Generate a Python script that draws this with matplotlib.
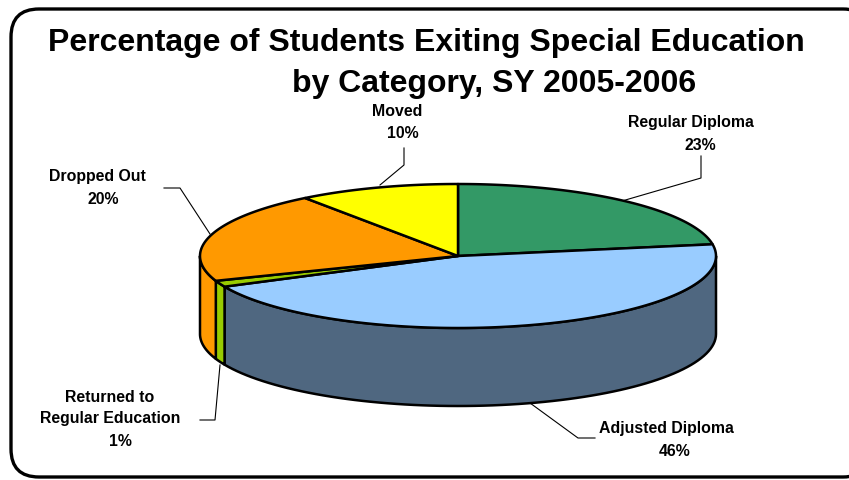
import numpy as np
import matplotlib
matplotlib.use("Agg")
import matplotlib.pyplot as plt
from matplotlib.patches import FancyBboxPatch, Polygon

plt.rcParams['font.family'] = ['Liberation Sans', 'DejaVu Sans']

# slice sizes, clockwise from 12 o'clock
categories = ['Regular Diploma', 'Adjusted Diploma', 'Returned to\nRegular Education', 'Dropped Out', 'Moved']
shares = [22.4, 45.6, 1.4, 20.5, 10.1]
pct_labels = ['23%', '46%', '1%', '20%', '10%']
top_colors = ['#339966', '#99ccff', '#99cc00', '#ff9900', '#ffff00']
side_colors = ['#1f5c3d', '#4f6780', '#99cc00', '#ff9900', '#999900']

cx, cy, rx, ry, depth = 458, 256, 258, 72, 78


def rim(t):
    # t is the angle in degrees, clockwise from the top
    t = np.radians(t)
    return cx + rx*np.sin(t), cy - ry*np.cos(t)


fig = plt.figure(figsize=(8.49, 4.8), dpi=100)
ax = fig.add_axes([0, 0, 1, 1])
ax.set_xlim(0, 849)
ax.set_ylim(480, 0)
ax.axis('off')

ax.add_patch(FancyBboxPatch((11, 9), 860, 468, boxstyle="round,pad=0,rounding_size=28",
                            fc='white', ec='black', lw=2.4, zorder=1))

edges = np.cumsum([0] + shares) * 3.6

# outer wall first, only the front half can be seen
for i in range(len(shares)):
    a = max(edges[i], 90)
    b = min(edges[i+1], 270)
    if b <= a:
        continue
    t = np.linspace(a, b, 80)
    x, y = rim(t)
    pts = np.column_stack([np.r_[x, x[::-1]], np.r_[y, y[::-1] + depth]])
    ax.add_patch(Polygon(pts, closed=True, fc=side_colors[i], ec='black', lw=1.8,
                         joinstyle='round', zorder=2))

# top faces
for i in range(len(shares)):
    t = np.linspace(edges[i], edges[i+1], 120)
    x, y = rim(t)
    pts = np.column_stack([np.r_[cx, x], np.r_[cy, y]])
    ax.add_patch(Polygon(pts, closed=True, fc=top_colors[i], ec='black', lw=1.8,
                         joinstyle='round', zorder=3))

# leader lines
leaders = [
    ([622, 701, 701], [201, 178, 156]),
    ([530, 578, 595], [403, 438, 438]),
    ([220, 215, 200], [365, 420, 420]),
    ([210, 180, 164], [234, 188, 188]),
    ([380, 404, 404], [185, 165, 148]),
]
for lx, ly in leaders:
    ax.plot(lx, ly, color='black', lw=0.8, zorder=2.5)

# names and percentages sit a little apart in the original, so they are placed one by one
name_pos = [(691, 123), (666, 428), (110, 408), (97, 177), (397, 111)]
pct_pos = [(700, 146), (675, 451), (120, 442), (103, 200), (403, 134)]
for name, pct, (nx, ny), (px, py) in zip(categories, pct_labels, name_pos, pct_pos):
    ax.text(nx, ny, name, ha='center', va='center', fontsize=11.4, fontweight='bold',
            linespacing=1.5, zorder=5)
    ax.text(px, py, pct, ha='center', va='center', fontsize=11.4, fontweight='bold', zorder=5)

ax.text(426.5, 42.5, 'Percentage of Students Exiting Special Education', ha='center', va='center',
        fontsize=23.05, fontweight='bold', zorder=5)
ax.text(494, 84, 'by Category, SY 2005-2006', ha='center', va='center',
        fontsize=23.05, fontweight='bold', zorder=5)

fig.savefig('out.png', dpi=100)
